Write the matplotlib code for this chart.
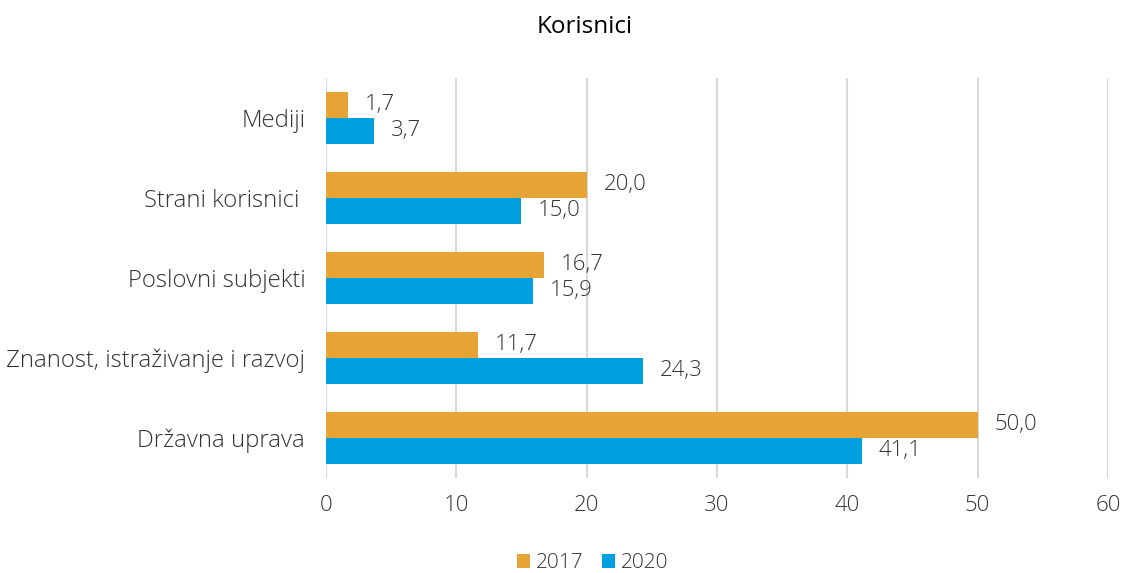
import numpy as np
import matplotlib.pyplot as plt

categories = ["Mediji", "Strani korisnici ", "Poslovni subjekti",
              "Znanost, istraživanje i razvoj", "Državna uprava"]
v2017 = [1.7, 20.0, 16.7, 11.7, 50.0]
v2020 = [3.7, 15.0, 15.9, 24.3, 41.1]

orange = "#E5A435"
blue = "#00A0E0"
txt = "#333333"

plt.rcParams['font.family'] = ['Open Sans', 'DejaVu Sans']

fig = plt.figure(figsize=(11.25, 5.73), dpi=100)
ax = fig.add_axes([0.2898, 0.166, 0.695, 0.698])

y = np.arange(len(categories))
h = 0.325
b1 = ax.barh(y - h / 2, v2017, height=h, color=orange, label="2017", zorder=3)
b2 = ax.barh(y + h / 2, v2020, height=h, color=blue, label="2020", zorder=3)

for bars, vals in ((b1, v2017), (b2, v2020)):
    for bar, v in zip(bars, vals):
        ax.annotate(f"{v:.1f}".replace(".", ","),
                    (bar.get_width(), bar.get_y() + bar.get_height() / 2),
                    xytext=(12, 0), textcoords="offset points",
                    va="center", ha="left", fontsize=16, fontweight="light",
                    color=txt)

ax.set_yticks(y)
ax.set_yticklabels(categories, fontsize=17.2, fontweight="light", color=txt)
ax.set_ylim(len(categories) - 0.5, -0.5)
ax.set_xlim(0, 60)
ax.set_xticks(range(0, 61, 10))
ax.tick_params(axis="x", labelsize=16, colors=txt, length=0, pad=12)
ax.tick_params(axis="y", length=0, pad=15)
for lab in ax.get_xticklabels():
    lab.set_fontweight("light")
ax.grid(axis="x", color="#D9D9D9", linewidth=1.5, zorder=0)
for s in ax.spines.values():
    s.set_visible(False)

fig.text(0.52, 0.953, "Korisnici", ha="center", va="center",
         fontsize=17.5, color="black")

fig.legend(handles=[b1, b2], labels=["2017", "2020"], loc="center",
           bbox_to_anchor=(0.527, 0.017), ncol=2, frameon=False,
           handlelength=0.6, handleheight=0.6,
           handletextpad=0.3, columnspacing=0.9,
           prop={"weight": "light", "size": 15}, labelcolor=txt)

fig.savefig("out.png", dpi=100)
